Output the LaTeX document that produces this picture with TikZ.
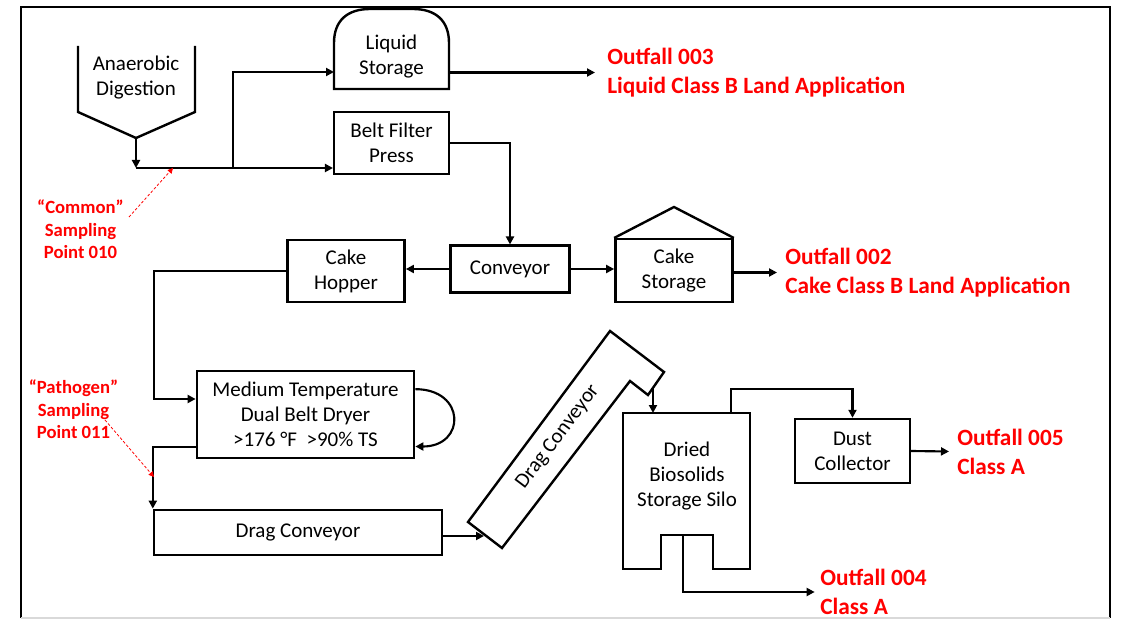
\documentclass[tikz,border=0pt]{standalone}
\usepackage{fontspec}
\setmainfont{Carlito}
\usetikzlibrary{positioning,calc,arrows.meta}
\tikzset{pbox/.style={draw, line width=1.8pt, align=center, inner sep=2pt, font=\fontsize{15.75}{18.75}\selectfont}}
\tikzset{plbl/.style={align=center, inner sep=0pt, font=\fontsize{15.75}{18.75}\selectfont}}
\tikzset{pline/.style={line width=1.8pt, line join=miter}}
\tikzset{arr/.style={draw, line width=1.6pt, -{Triangle[length=6pt,width=6pt]}}}
\tikzset{outfall/.style={anchor=west, align=left, inner sep=0pt, text=red, font=\fontsize{17.5}{21.75}\selectfont\bfseries}}
\tikzset{sample/.style={align=center, inner sep=0pt, text=red, font=\fontsize{14}{17}\selectfont\bfseries}}
\tikzset{samparr/.style={draw=red, line width=0.6pt, dash pattern=on 2pt off 1.5pt, -{Triangle[length=4pt,width=4pt]}}}
\begin{document}
\begin{tikzpicture}[x=0.75pt, y=-0.75pt]
		\useasboundingbox (0,0) rectangle (1121,620);
		\draw[line width=0.8pt] (21,618) -- (21,7) -- (1110,7) -- (1110,618);
		\draw[line width=0.8pt, black!15] (21,618) -- (1110,618);
		% units
		\node[plbl] (ad) at (136,78) {Anaerobic\\Digestion};
		\draw[pline] (78,46) -- (78,112) -- (136,138) coordinate (adout) -- (195,112) -- (195,46);
		\node[plbl] (liq) at (391.5,56.5) {Liquid\\Storage};
		\draw[pline] (334,89) -- (334,43) .. controls (334,20) and (348,9) .. (370,9) -- (413,9) .. controls (435,9) and (449,20) .. (449,43) -- (449,89) -- cycle;
		\node[pbox, minimum width=86pt, minimum height=46.5pt] (bfp) at (391.5,143) {Belt Filter\\Press};
		\node[pbox, minimum width=89pt, minimum height=35pt] (conv) at (510,269) {Conveyor};
		\node[pbox, minimum width=88pt, minimum height=46.5pt] (hop) at (346,271) {Cake\\Hopper};
		\node[pbox, minimum width=88pt, minimum height=47pt] (cst) at (674,270.5) {Cake\\Storage};
		\draw[pline] (cst.north west) -- (cst.north |- 0,207) -- (cst.north east);
		\node[pbox, minimum width=163pt, minimum height=65pt] (dry) at (305.5,414.5) {Medium Temperature\\Dual Belt Dryer\\>176 °F~~>90\% TS};
		\node[pbox, minimum width=216pt, minimum height=34pt] (dcv) at (298,532.5) {Drag Conveyor};
		\draw[pline] (468,522) -- (610,331) -- (664,372) -- (648,395) -- (630,381) -- (502,548) -- cycle;
		\node[plbl, rotate=53] (inc) at (558,437) {Drag Conveyor};
		\node[plbl] (silo) at (687,476) {Dried\\Biosolids\\Storage Silo};
		\draw[pline] (623,413) coordinate (silonw) -- (750,413) -- (750,569) -- (713,569) -- (713,535) -- (661,535) -- (661,569) -- (623,569) -- cycle;
		\node[pbox, minimum width=86pt, minimum height=48pt] (dust) at (852.5,451) {Dust\\Collector};
		% outfalls and sampling points
		\node[outfall] (out3) at (607,72.5) {Outfall 003\\Liquid Class B Land Application};
		\node[outfall] (out2) at (785,272.5) {Outfall 002\\Cake Class B Land Application};
		\node[outfall] (out5) at (957,451.5) {Outfall 005\\Class A};
		\node[outfall] (out4) at (820,592) {Outfall 004\\Class A};
		\node[sample] (cmn) at (80.5,229.5) {“Common”\\Sampling\\Point 010};
		\node[sample] (pth) at (73.5,409.5) {“Pathogen”\\Sampling\\Point 011};
		% flows
		\coordinate (adj) at (136,168);
		\coordinate (split) at (233,168);
		\coordinate (lsin) at (334,72);
		\coordinate (lsout) at (449,72.5);
		\coordinate (rail) at (154,399);
		\coordinate (incin) at (484,536);
		\coordinate (hook) at (653,388);
		\coordinate (vent) at (731,413);
		\coordinate (drain) at (683,535);
		\draw[arr] (adout) -- (adj);
		\draw[arr] (adj) -- (bfp.west |- adj);
		\draw[arr] (split) |- (lsin);
		\draw[arr] (lsout) -- ([xshift=-9pt]out3.west);
		\draw[arr] (bfp.east) -| (conv.north);
		\draw[arr] (conv.west) -- (conv.west -| hop.east);
		\draw[arr] (conv.east) -- (conv.east -| cst.west);
		\draw[arr] (cst.east |- out2.west) -- ([xshift=-6pt]out2.west);
		\draw[arr] (hop.west) -| (rail) -- (dry.west |- rail);
		\draw[arr] ([yshift=19pt]dry.east) to[out=0, in=0, distance=38pt] ([yshift=-24pt]dry.east);
		\draw[arr] ([yshift=9pt]dry.south west) -| (dcv.north west);
		\draw[arr] (dcv.east |- incin) -- (incin);
		\draw[arr] (hook) -- (hook |- silonw);
		\draw[arr] (vent) -- ++(0,-24) -| (dust.north);
		\draw[arr] (dust.east) -- ([xshift=-6pt]out5.west);
		\draw[arr] (drain) |- ([xshift=-4pt]out4.west);
		\coordinate (cmnfrom) at (129,217);
		\coordinate (cmnto) at (173,168);
		\coordinate (pthfrom) at (105,420);
		\coordinate (pthto) at (154,477);
		\draw[samparr] (cmnfrom) -- (cmnto);
		\draw[samparr] (pthfrom) -- (pthto);
	\end{tikzpicture}
\end{document}
